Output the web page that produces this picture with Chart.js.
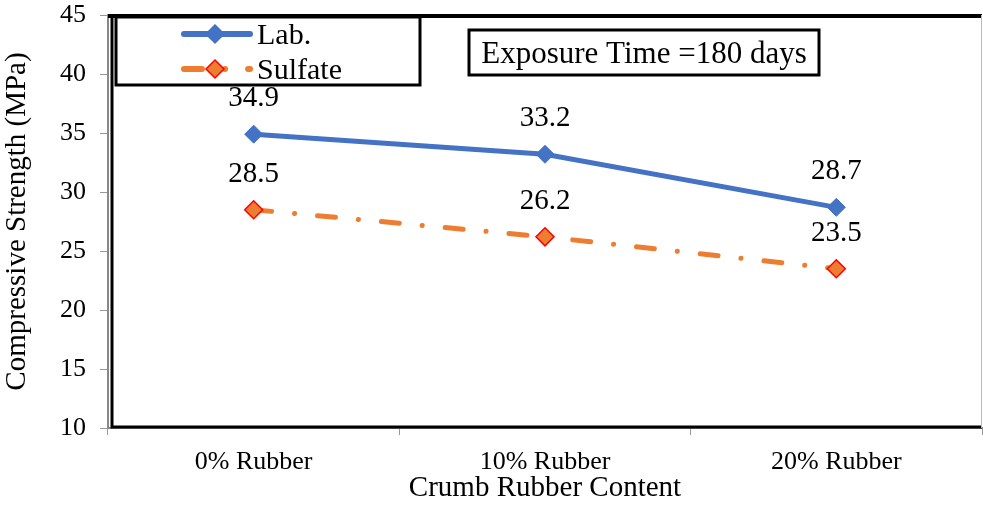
<!DOCTYPE html>
<html>
<head>
<meta charset="utf-8">
<script src="https://cdn.jsdelivr.net/npm/chart.js@4"></script>
<style>
  html, body { margin: 0; padding: 0; background: #fff; }
  #wrap { width: 983px; height: 506px; }
</style>
</head>
<body>
<div id="wrap"><canvas id="strengthChart" width="983" height="506"></canvas></div>
<script>
const categories = ["0% Rubber", "10% Rubber", "20% Rubber"];
const labValues = [34.9, 33.2, 28.7];
const sulfateValues = [28.5, 26.2, 23.5];
const yTicks = [10, 15, 20, 25, 30, 35, 40, 45];

const FONT = "'Liberation Serif', 'Times New Roman', serif";

// point labels, legend box, annotation box and the black frame
const decorations = {
  id: "decorations",
  afterDatasetsDraw(chart) {
    const ctx = chart.ctx;
    const area = chart.chartArea;
    ctx.save();

    // frame
    ctx.strokeStyle = "#000";
    ctx.lineWidth = 4;
    ctx.beginPath();
    ctx.moveTo(area.left, area.top + 1);
    ctx.lineTo(area.right, area.top + 1);
    ctx.stroke();
    ctx.lineWidth = 3;
    ctx.beginPath();
    ctx.moveTo(area.left + 4, area.top);
    ctx.lineTo(area.left + 4, area.bottom - 1);
    ctx.lineTo(area.right, area.bottom - 1);
    ctx.stroke();
    ctx.strokeStyle = "#bbb";
    ctx.lineWidth = 1;
    ctx.beginPath();
    ctx.moveTo(area.right - 0.5, area.top);
    ctx.lineTo(area.right - 0.5, area.bottom);
    ctx.stroke();

    // value labels
    ctx.fillStyle = "#000";
    ctx.font = "29px " + FONT;
    ctx.textAlign = "center";
    ctx.textBaseline = "alphabetic";
    chart.data.datasets.forEach((ds, i) => {
      const meta = chart.getDatasetMeta(i);
      meta.data.forEach((pt, j) => {
        ctx.fillText(ds.data[j].toFixed(1), pt.x, pt.y - 28);
      });
    });

    // legend box
    ctx.fillStyle = "#fff";
    ctx.fillRect(116, 17, 304, 68);
    ctx.strokeStyle = "#000";
    ctx.lineWidth = 3;
    ctx.strokeRect(116, 17, 304, 68);

    const items = [
      { ds: chart.data.datasets[0], y: 34 },
      { ds: chart.data.datasets[1], y: 69 }
    ];
    items.forEach((it) => {
      ctx.strokeStyle = it.ds.borderColor;
      ctx.lineWidth = 6;
      ctx.lineCap = "round";
      ctx.setLineDash(it.ds.borderDash || []);
      ctx.beginPath();
      ctx.moveTo(184, it.y);
      ctx.lineTo(250, it.y);
      ctx.stroke();
      ctx.setLineDash([]);
      // diamond
      const r = 9;
      ctx.beginPath();
      ctx.moveTo(215, it.y - r);
      ctx.lineTo(215 + r, it.y);
      ctx.lineTo(215, it.y + r);
      ctx.lineTo(215 - r, it.y);
      ctx.closePath();
      ctx.fillStyle = it.ds.pointBackgroundColor;
      ctx.fill();
      ctx.strokeStyle = it.ds.pointBorderColor;
      ctx.lineWidth = 1.5;
      ctx.stroke();
      ctx.fillStyle = "#000";
      ctx.font = "30px " + FONT;
      ctx.textAlign = "left";
      ctx.textBaseline = "alphabetic";
      ctx.fillText(it.ds.label, 257, it.y + 10);
    });

    // annotation box
    ctx.strokeStyle = "#000";
    ctx.lineWidth = 3;
    ctx.strokeRect(469, 30, 350, 45);
    ctx.fillStyle = "#000";
    ctx.font = "31px " + FONT;
    ctx.textAlign = "center";
    ctx.textBaseline = "alphabetic";
    ctx.fillText("Exposure Time =180 days", 644, 63);

    ctx.restore();
  }
};

new Chart(document.getElementById("strengthChart").getContext("2d"), {
  type: "line",
  data: {
    labels: categories,
    datasets: [
      {
        label: "Lab.",
        data: labValues,
        borderColor: "#4472C4",
        backgroundColor: "#4472C4",
        borderWidth: 5,
        pointStyle: "rectRot",
        pointRadius: 9,
        pointBackgroundColor: "#4472C4",
        pointBorderColor: "#4472C4",
        pointBorderWidth: 1,
        tension: 0
      },
      {
        label: "Sulfate",
        data: sulfateValues,
        borderColor: "#ED7D31",
        backgroundColor: "#ED7D31",
        borderWidth: 5,
        borderCapStyle: "round",
        borderDash: [18, 23, 0.1, 23],
        pointStyle: "rectRot",
        pointRadius: 9,
        pointBackgroundColor: "#ED7D31",
        pointBorderColor: "#FF0000",
        pointBorderWidth: 1.5,
        tension: 0
      }
    ]
  },
  options: {
    responsive: false,
    animation: false,
    layout: {
      autoPadding: false,
      padding: { top: 15, right: 1, left: 0, bottom: 0 }
    },
    plugins: {
      legend: { display: false },
      tooltip: { enabled: false }
    },
    scales: {
      x: {
        offset: true,
        grid: {
          offset: true,
          drawOnChartArea: false,
          drawTicks: true,
          tickLength: 7,
          color: "#999"
        },
        border: { display: true, color: "#888", width: 2 },
        ticks: {
          color: "#000",
          font: { family: FONT, size: 26 },
          padding: 12,
          maxRotation: 0
        },
        title: {
          display: true,
          text: "Crumb Rubber Content",
          color: "#000",
          font: { family: FONT, size: 29 },
          padding: { top: -6, bottom: 0 }
        },
        afterFit(scale) {
          scale.height = 78;
          scale.paddingLeft = 0;
          scale.paddingRight = 0;
        }
      },
      y: {
        min: 10,
        max: 45,
        afterBuildTicks(scale) {
          scale.ticks = yTicks.map((v) => ({ value: v }));
        },
        grid: {
          drawOnChartArea: false,
          drawTicks: true,
          tickLength: 8,
          color: "#999"
        },
        border: { display: true, color: "#888", width: 2 },
        ticks: {
          color: "#000",
          font: { family: FONT, size: 26 },
          padding: 14
        },
        title: {
          display: true,
          text: "Compressive Strength (MPa)",
          color: "#000",
          font: { family: FONT, size: 29 },
          padding: { top: 0, bottom: 4 }
        },
        afterFit(scale) {
          scale.width = 108;
          scale.paddingTop = 0;
          scale.paddingBottom = 0;
        }
      }
    }
  },
  plugins: [decorations]
});
</script>
</body>
</html>
